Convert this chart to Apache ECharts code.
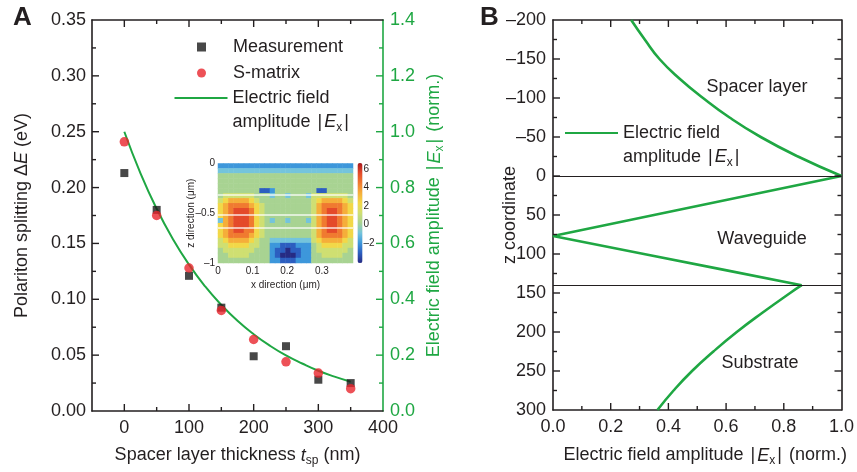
<!DOCTYPE html>
<html>
<head>
<meta charset="utf-8">
<script src="https://cdn.jsdelivr.net/npm/echarts@6.0.0/dist/echarts.min.js"></script>
<style>
html, body { margin: 0; background: #fff; }
#main { width: 857px; height: 472px; }
</style>
</head>
<body>
<div id="main"></div>
<script>
// panel A: splitting vs spacer thickness
const thickness = [0, 50, 100, 150, 200, 250, 300, 350];
const measurement = [0.213, 0.180, 0.121, 0.0925, 0.049, 0.058, 0.028, 0.025];
const sMatrix = [0.241, 0.175, 0.128, 0.090, 0.064, 0.044, 0.034, 0.020];
const fieldThickness = [0, 25, 50, 75, 100, 125, 150, 175, 200, 225, 250, 275, 300, 325, 350];
const fieldAmpA = [1.0, 0.851, 0.724, 0.616, 0.524, 0.446, 0.380, 0.323, 0.275, 0.234, 0.199, 0.170, 0.144, 0.123, 0.105];

// panel B: field profile, one pair of arrays per layer
const zSpacer = [-200, -175, -150, -125, -100, -75, -50, -25, 0];
const ampSpacer = [0.271, 0.318, 0.369, 0.438, 0.52, 0.612, 0.72, 0.849, 1.0];
const zWaveguide = [0, 25, 50, 77, 100, 120, 140];
const ampWaveguide = [1.0, 0.675, 0.35, 0.0, 0.315, 0.589, 0.862];
const zSubstrate = [140, 150, 175, 200, 225, 250, 275, 300];
const ampSubstrate = [0.862, 0.822, 0.727, 0.637, 0.556, 0.482, 0.418, 0.362];
const interfaces = [0, 140];

// tick values
const xLabelsA = [0, 100, 200, 300, 400];
const xMajorA = [0, 100, 200, 300];
const xMinorA = [50, 150, 250, 350];
const yMajorA = [0.05, 0.10, 0.15, 0.20, 0.25, 0.30];
const yMinorA = [0.025, 0.075, 0.125, 0.175, 0.225, 0.275, 0.325];
const yMajorRightA = [0.2, 0.4, 0.6, 0.8, 1.0, 1.2];
const yMinorRightA = [0.1, 0.3, 0.5, 0.7, 0.9, 1.1, 1.3];
const xMajorB = [0.2, 0.4, 0.6, 0.8];
const xMinorB = [0.1, 0.3, 0.5, 0.7, 0.9];
const zMajorB = [-150, -100, -50, 0, 50, 100, 150, 200, 250];
const zMinorB = [-175, -125, -75, -25, 25, 75, 125, 175, 225, 275];

// inset: field map, one digit per cell (0 = deep blue ... 9 = red)
const insetRows = [
  '22222222222222222222222222',
  '33333333333333333333333333',
  '44444444444444444444444444',
  '44444444444444444444444444',
  '44444444444444444444444444',
  '44444444112444444441144444',
  '4555555444' + '3443444' + '355555554',
  '5677776544' + '4444444' + '456777765',
  '6788887654' + '4444444' + '457888876',
  '6789998654' + '4444444' + '457899876',
  '6789998654' + '4444444' + '457899876',
  '3789998654' + '3443444' + '357899876',
  '6789998654' + '4444444' + '457899876',
  '6789988654' + '4444444' + '457899876',
  '6788887654' + '4444444' + '457888876',
  '5677776544' + '3333333' + '356777765',
  '5566665544' + '2211122' + '245666655',
  '4555555444' + '2110112' + '245555554',
  '4455554444' + '2100012' + '244555544',
  '4444444444' + '2211122' + '244444444'
];
const insetColors = ['#262b84', '#2c5ec0', '#3d97db', '#74c4dc', '#a8d392', '#cfdf72',
  '#f2d848', '#f5ae3a', '#f07a30', '#e44a2a', '#a8181e'];
const insetLayers = [-0.31, -0.515, -0.645];
const insetXLabels = [0, 0.1, 0.2, 0.3];
const insetZLabels = [0, -0.5, -1];
const colorbarTicks = [-2, 0, 2, 4, 6];

const FONT = 'Liberation Sans, Arial, Helvetica, sans-serif';
const INK = '#231f20';
const GREEN = '#1fa743';

const insetData = [];
insetRows.forEach(function (row, r) {
  row.split('').forEach(function (ch, c) { insetData.push([c, r, +ch]); });
});

// tick marks: anchored on the frame, pushed inwards by d pixels
const mk = (vals, fixed, isX, d) => vals.map(v => ({
  value: isX ? [v, fixed] : [fixed, v],
  dx: isX ? 0 : d,
  dy: isX ? d : 0
}));
const ticksA = [].concat(
  mk(xMajorA, 0, true, -7), mk(xMinorA, 0, true, -4),
  mk(xMajorA, 0.35, true, 7), mk(xMinorA, 0.35, true, 4),
  mk(yMajorA, -50, false, 7), mk(yMinorA, -50, false, 4));
const ticksRightA = [].concat(mk(yMajorRightA, 400, false, -7), mk(yMinorRightA, 400, false, -4));
const ticksB = [].concat(
  mk(xMajorB, 300, true, -7), mk(xMinorB, 300, true, -4),
  mk(xMajorB, -200, true, 7), mk(xMinorB, -200, true, 4),
  mk(zMajorB, 0, false, 7), mk(zMinorB, 0, false, 4),
  mk(zMajorB, 1, false, -7), mk(zMinorB, 1, false, -4));

const dash = v => (v < 0 ? '–' + (-v) : String(v));
const rich = {
  i: { fontStyle: 'italic' },
  s: { fontSize: 12, padding: [11, 0, 0, 0] },
  b: { padding: [0, 2, 0, 2] }
};
const exText = '{b||}{i|E}{s|x}{b||}';
const axLine = color => ({ show: true, onZero: false, lineStyle: { color: color, width: 1.6 } });
const tickFont = { fontSize: 18, fontFamily: FONT, color: INK };
const nameFont = { fontSize: 18, fontFamily: FONT, color: INK, rich: rich };
const none = { show: false };

const legendRich = {
  n: { fontSize: 18, lineHeight: 24 },
  i: { fontSize: 18, lineHeight: 24, fontStyle: 'italic' },
  s: { fontSize: 12, lineHeight: 24, padding: [11, 0, 0, 0] },
  b: { fontSize: 18, lineHeight: 24, padding: [0, 2, 0, 2] }
};
const squareIcon = 'path://M0 0H10V10H0Z';
const circleIcon = 'path://M5 0A5 5 0 1 1 5 10A5 5 0 1 1 5 0Z';
const lineIcon = 'path://M0 0H53V2.2H0Z';
const fieldLegend = () => '{n|Electric field}\n{n|amplitude }{b||}{i|E}{s|x}{b||}';
function legendAt(name, icon, left, top, twoLines) {
  return {
    data: [{ name: name, icon: icon }], left: left, top: top, padding: 0, selectedMode: false,
    itemWidth: 53, itemHeight: 9,
    formatter: twoLines ? fieldLegend : undefined,
    textStyle: twoLines
      ? { fontSize: 18, fontFamily: FONT, color: INK, lineHeight: 24, padding: [24, 0, 0, 0], rich: legendRich }
      : { fontSize: 18, fontFamily: FONT, color: INK }
  };
}
const fieldLine = (zs, amps, smooth, extra) => Object.assign({
  name: 'Electric field amplitude', type: 'line', xAxisIndex: 2, yAxisIndex: 2, smooth: smooth,
  symbol: 'none', itemStyle: { color: GREEN }, lineStyle: { color: GREEN, width: 2.6 }, z: 3,
  data: amps.map((e, i) => [e, zs[i]])
}, extra);

const textGraphic = [
  { type: 'text', left: 13, top: 5, style: { text: 'A', font: 'bold 26px ' + FONT, fill: INK } },
  { type: 'text', left: 480, top: 5, style: { text: 'B', font: 'bold 26px ' + FONT, fill: INK } },
  { type: 'text', x: 757, y: 87, style: { text: 'Spacer layer', font: '18px ' + FONT, fill: INK, align: 'center', verticalAlign: 'middle' } },
  { type: 'text', x: 762, y: 239, style: { text: 'Waveguide', font: '18px ' + FONT, fill: INK, align: 'center', verticalAlign: 'middle' } },
  { type: 'text', x: 760, y: 363, style: { text: 'Substrate', font: '18px ' + FONT, fill: INK, align: 'center', verticalAlign: 'middle' } }
];

const chart = echarts.init(document.getElementById('main'));
chart.setOption({
  animation: false,
  textStyle: { fontFamily: FONT },
  grid: [
    { left: 92, top: 20, width: 291, height: 391 },
    { left: 553, top: 20, width: 290, height: 391 },
    { left: 218, top: 163.5, width: 135, height: 99.5 },
    { left: 218, top: 163.5, width: 135, height: 99.5 },
    { left: 357.5, top: 163, width: 5, height: 100 }
  ],
  legend: [
    legendAt('Measurement', squareIcon, 197, 38),
    legendAt('S-matrix', circleIcon, 197, 64),
    legendAt('Electric field amplitude', lineIcon, 174.5, 62, true),
    legendAt('Electric field amplitude', lineIcon, 565, 97, true)
  ],
  xAxis: [
    { gridIndex: 0, type: 'value', position: 'bottom', min: -50, max: 400,
      axisLine: axLine(INK), axisTick: none,
      axisLabel: Object.assign({ customValues: xLabelsA, margin: 8 }, tickFont), splitLine: none,
      name: 'Spacer layer thickness {i|t}{s|sp} (nm)', nameLocation: 'middle', nameGap: 33,
      nameMoveOverlap: false, nameTextStyle: nameFont },
    { gridIndex: 0, type: 'value', position: 'top', min: -50, max: 400,
      axisLine: axLine(INK), axisTick: none, axisLabel: none, splitLine: none },
    { gridIndex: 1, type: 'value', position: 'bottom', min: 0, max: 1, interval: 0.2,
      axisLine: axLine(INK), axisTick: none,
      axisLabel: Object.assign({ margin: 8, formatter: v => v.toFixed(1) }, tickFont), splitLine: none,
      name: 'Electric field amplitude ' + exText + ' (norm.)', nameLocation: 'middle', nameGap: 34,
      nameMoveOverlap: false, nameTextStyle: Object.assign({ padding: [0, 0, 0, 16] }, nameFont) },
    { gridIndex: 1, type: 'value', position: 'top', min: 0, max: 1, interval: 0.2,
      axisLine: axLine(INK), axisTick: none, axisLabel: none, splitLine: none },
    { gridIndex: 2, type: 'category', data: insetRows[0].split('').map((c, i) => i), show: false },
    { gridIndex: 3, type: 'value', position: 'bottom', min: 0, max: 0.39,
      axisLine: none, axisTick: none, splitLine: none,
      axisLabel: { customValues: insetXLabels, fontSize: 10, color: INK, margin: 3 },
      name: 'x direction (μm)', nameLocation: 'middle', nameGap: 17, nameMoveOverlap: false,
      nameTextStyle: { fontSize: 10, color: INK } },
    { gridIndex: 4, type: 'value', show: false }
  ],
  yAxis: [
    { gridIndex: 0, type: 'value', position: 'left', min: 0, max: 0.35, interval: 0.05,
      axisLine: axLine(INK), axisTick: none,
      axisLabel: Object.assign({ margin: 6, formatter: v => v.toFixed(2) }, tickFont), splitLine: none,
      name: 'Polariton splitting Δ{i|E} (eV)', nameLocation: 'middle', nameRotate: 90, nameGap: 61,
      nameMoveOverlap: false, nameTextStyle: nameFont },
    { gridIndex: 0, type: 'value', position: 'right', min: 0, max: 1.4, interval: 0.2,
      axisLine: axLine(GREEN), axisTick: none,
      axisLabel: { margin: 7, formatter: v => v.toFixed(1), fontSize: 18, fontFamily: FONT, color: GREEN }, splitLine: none,
      name: 'Electric field amplitude ' + exText + ' (norm.)', nameLocation: 'middle', nameRotate: 90, nameGap: 40,
      nameMoveOverlap: false, nameTextStyle: { fontSize: 18, fontFamily: FONT, color: GREEN, rich: rich } },
    { gridIndex: 1, type: 'value', position: 'left', min: -200, max: 300, interval: 50, inverse: true,
      axisLine: axLine(INK), axisTick: none,
      axisLabel: Object.assign({ margin: 7, formatter: dash }, tickFont), splitLine: none,
      name: 'z coordinate', nameLocation: 'middle', nameRotate: 90, nameGap: 34,
      nameMoveOverlap: false, nameTextStyle: nameFont },
    { gridIndex: 1, type: 'value', position: 'right', min: -200, max: 300, interval: 50, inverse: true,
      axisLine: axLine(INK), axisTick: none, axisLabel: none, splitLine: none },
    { gridIndex: 2, type: 'category', data: insetRows.map((r, i) => i), inverse: true, show: false },
    { gridIndex: 3, type: 'value', position: 'left', min: -1, max: 0,
      axisLine: none, axisTick: none, splitLine: none,
      axisLabel: { customValues: insetZLabels, formatter: dash, fontSize: 10, color: INK, margin: 3 },
      name: 'z direction (μm)', nameLocation: 'middle', nameRotate: 90, nameGap: 22, nameMoveOverlap: false,
      nameTextStyle: { fontSize: 10, color: INK } },
    { gridIndex: 4, type: 'value', position: 'right', min: -4.16, max: 6.65,
      axisLine: none, axisTick: none, splitLine: none,
      axisLabel: { customValues: colorbarTicks, formatter: dash, fontSize: 10, color: INK, margin: 1 } }
  ],
  visualMap: {
    type: 'continuous', seriesIndex: 6, min: 0, max: 10, calculable: false, hoverLink: false,
    orient: 'vertical', left: 357.5, top: 163, itemWidth: 5, itemHeight: 100, padding: 0,
    inRange: { color: insetColors }
  },
  series: [
    { name: 'Measurement', type: 'scatter', xAxisIndex: 0, yAxisIndex: 0, symbol: 'rect', symbolSize: 8,
      itemStyle: { color: '#1a1a1a' }, z: 3, data: thickness.map((t, i) => [t, measurement[i]]) },
    { name: 'S-matrix', type: 'scatter', xAxisIndex: 0, yAxisIndex: 0, symbol: 'circle', symbolSize: 9.5,
      itemStyle: { color: '#e8262d' }, z: 4, data: thickness.map((t, i) => [t, sMatrix[i]]) },
    { name: 'Electric field amplitude', type: 'line', xAxisIndex: 0, yAxisIndex: 1, smooth: true,
      symbol: 'none', itemStyle: { color: GREEN }, lineStyle: { color: GREEN, width: 2 }, z: 2,
      data: fieldThickness.map((t, i) => [t, fieldAmpA[i]]) },
    fieldLine(zSpacer, ampSpacer, true),
    fieldLine(zWaveguide, ampWaveguide, false, {
      markLine: { silent: true, symbol: 'none', label: none, lineStyle: { color: INK, width: 1.2, type: 'solid' },
        data: interfaces.map(z => ({ yAxis: z })) } }),
    fieldLine(zSubstrate, ampSubstrate, true),
    { type: 'heatmap', xAxisIndex: 4, yAxisIndex: 4, silent: true, data: insetData },
    { type: 'line', xAxisIndex: 5, yAxisIndex: 5, silent: true, data: [], z: 5,
      markLine: { silent: true, symbol: 'none', label: none,
        lineStyle: { color: 'rgba(255,255,255,0.85)', width: 1.5, type: 'solid' },
        data: insetLayers.map(z => ({ yAxis: z })) } }
  ],
  graphic: textGraphic
});

// inward tick marks, placed through the axes' own scales
try {
  const tickLines = [];
  const addTicks = (xi, yi, color, list) => list.forEach(function (t) {
    const p = chart.convertToPixel({ xAxisIndex: xi, yAxisIndex: yi }, t.value);
    if (!p) return;
    tickLines.push({
      type: 'line', silent: true, z: 100,
      shape: { x1: p[0], y1: p[1], x2: p[0] + t.dx, y2: p[1] + t.dy },
      style: { stroke: color, lineWidth: 1.4 }
    });
  });
  addTicks(0, 0, INK, ticksA);
  addTicks(0, 1, GREEN, ticksRightA);
  addTicks(2, 2, INK, ticksB);
  chart.setOption({ graphic: textGraphic.concat(tickLines) });
} catch (e) {
  console.log(e);
}
</script>
</body>
</html>
